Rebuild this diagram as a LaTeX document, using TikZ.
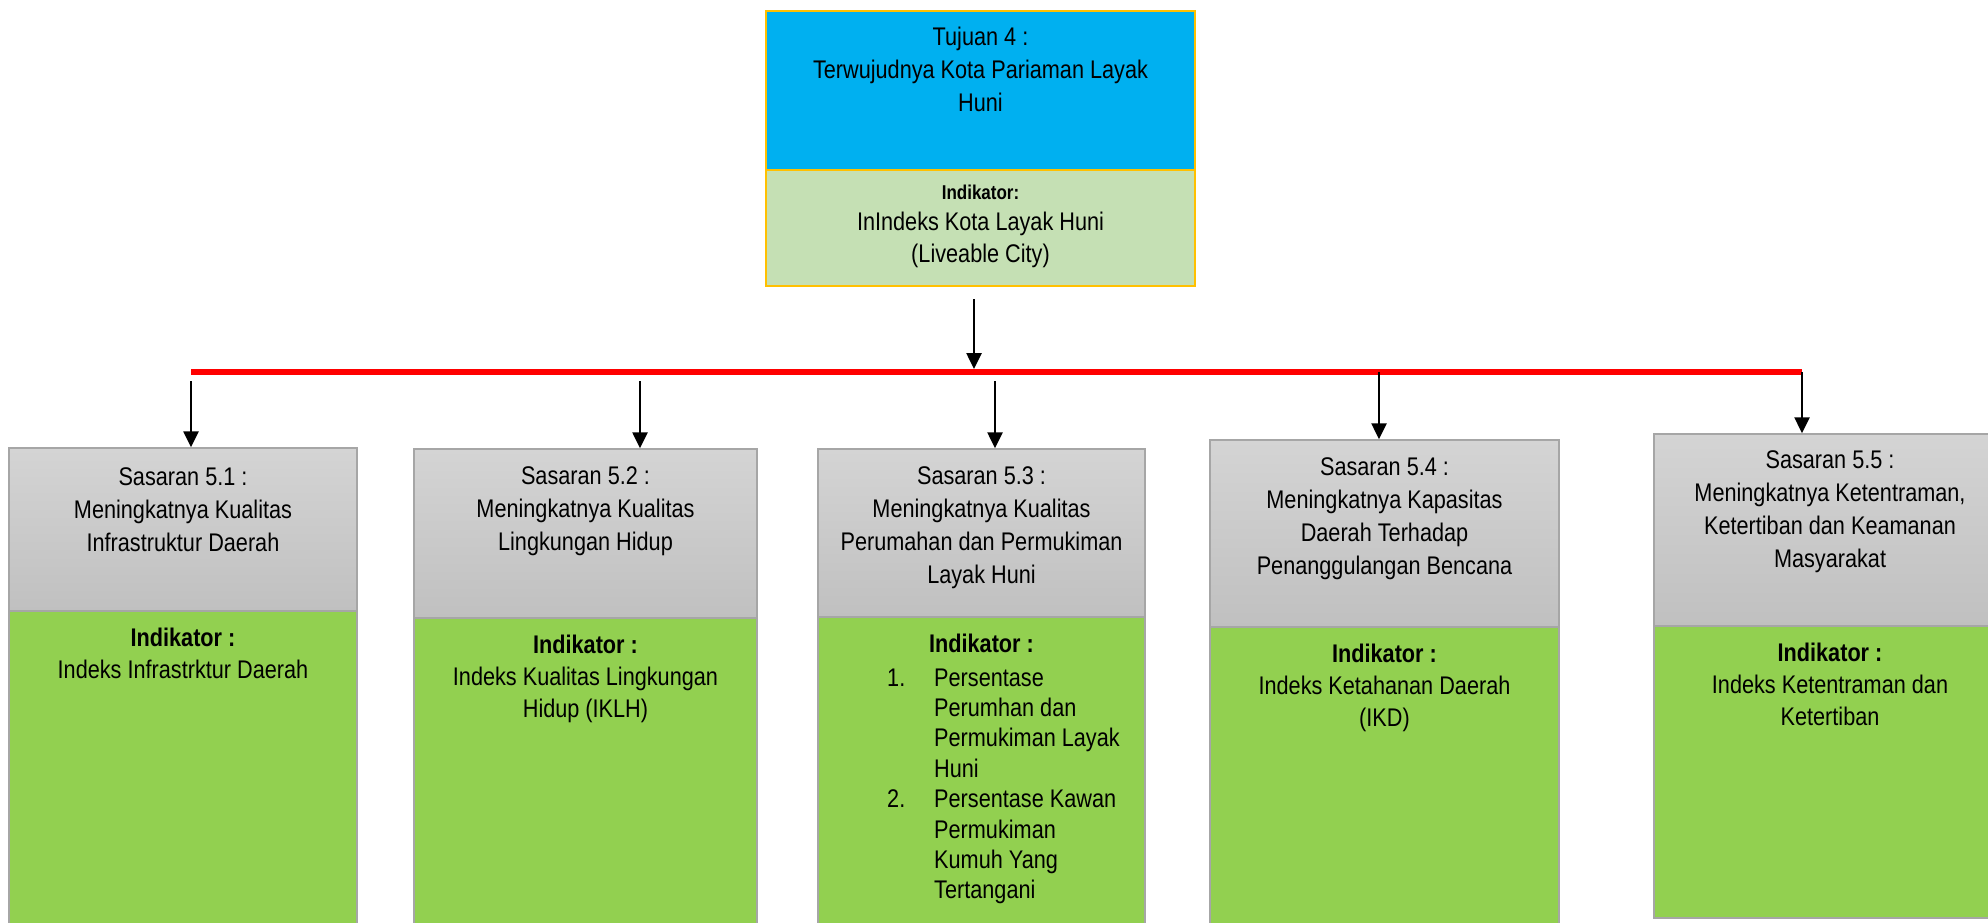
\documentclass[tikz,border=0pt]{standalone}
\usepackage{fontspec}
\setmainfont[FakeStretch=0.85]{Liberation Sans}
\usetikzlibrary{calc,arrows.meta}
\definecolor{topblue}{HTML}{00B0F0}
\definecolor{toplgreen}{HTML}{C5E0B4}
\definecolor{topborder}{HTML}{FFC000}
\definecolor{boxgreen}{HTML}{92D050}
\definecolor{graytop}{HTML}{D4D4D4}
\definecolor{graybot}{HTML}{C0C0C0}
\definecolor{boxborder}{HTML}{A6A6A6}
\newcommand\fsA{\fontsize{25.5}{33}\selectfont}
\newcommand\fsB{\fontsize{25.5}{32}\selectfont}
\newcommand\fsC{\fontsize{25.5}{30.4}\selectfont}
\tikzset{
  topbox/.style={draw=topborder, line width=2pt, fill=topblue, inner sep=0pt},
  toplow/.style={draw=topborder, line width=2pt, fill=toplgreen, inner sep=0pt},
  graybox/.style={draw=boxborder, line width=1.5pt, top color=graytop, bottom color=graybot, inner sep=0pt},
  greenbox/.style={draw=boxborder, line width=1.5pt, fill=boxgreen, inner sep=0pt},
  txtA/.style={anchor=north, inner sep=0pt, align=center, font=\fsA},
  txtB/.style={anchor=north, inner sep=0pt, align=center, font=\fsB},
  arr/.style={line width=2.6pt, draw=black, -{Triangle[width=15pt,length=16pt]}},
  bus/.style={line width=5.5pt, draw=red}
}
\begin{document}
\begin{tikzpicture}[x=1pt,y=-1pt]
\useasboundingbox (0,0) rectangle (1988,922);
% top box
\node[topbox, minimum width=429, minimum height=159] (t1) at (980.5,90.5) {};
\node[toplow, minimum width=429, minimum height=116] (t2) at (980.5,228) {};
\node[txtA] (t1t) at (980.5,21.9) {\strut Tujuan 4 :\\Terwujudnya Kota Pariaman Layak\\Huni};
\node[anchor=base, inner sep=0pt, font=\fontsize{20}{24}\selectfont\bfseries] (t2h) at (980.5,199) {Indikator:};
\node[txtB] (t2t) at (980.5,207.6) {\strut InIndeks Kota Layak Huni\\(Liveable City)};
% gray boxes
\node[graybox, minimum width=348, minimum height=163] (s1) at (183,529.5) {};
\node[greenbox, minimum width=348, minimum height=315] (g1) at (183,768.5) {};
\node[graybox, minimum width=343, minimum height=169] (s2) at (585.5,533.5) {};
\node[greenbox, minimum width=343, minimum height=308] (g2) at (585.5,772) {};
\node[graybox, minimum width=327, minimum height=168] (s3) at (981.5,533) {};
\node[greenbox, minimum width=327, minimum height=309] (g3) at (981.5,771.5) {};
\node[graybox, minimum width=349, minimum height=187] (s4) at (1384.5,533.5) {};
\node[greenbox, minimum width=349, minimum height=299] (g4) at (1384.5,776.5) {};
\node[graybox, minimum width=352, minimum height=192] (s5) at (1830,530) {};
\node[greenbox, minimum width=352, minimum height=292] (g5) at (1830,772) {};
% texts
\node[txtA] (s1t) at (183,461.9) {\strut Sasaran 5.1 :\\Meningkatnya Kualitas\\Infrastruktur Daerah};
\node[txtA] (s2t) at (585.5,460.9) {\strut Sasaran 5.2 :\\Meningkatnya Kualitas\\Lingkungan Hidup};
\node[txtA] (s3t) at (981.5,460.9) {\strut Sasaran 5.3 :\\Meningkatnya Kualitas\\Perumahan dan Permukiman\\Layak Huni};
\node[txtA] (s4t) at (1384.5,451.9) {\strut Sasaran 5.4 :\\Meningkatnya Kapasitas\\Daerah Terhadap\\Penanggulangan Bencana};
\node[txtA] (s5t) at (1830,444.9) {\strut Sasaran 5.5 :\\Meningkatnya Ketentraman,\\Ketertiban dan Keamanan\\Masyarakat};
\node[txtB] (g1t) at (183,623.6) {\strut\textbf{Indikator :}\\Indeks Infrastrktur Daerah};
\node[txtB] (g2t) at (585.5,630.6) {\strut\textbf{Indikator :}\\Indeks Kualitas Lingkungan\\Hidup (IKLH)};
\node[anchor=base, inner sep=0pt, font=\fsB\bfseries] (g3h) at (981.5,652) {Indikator :};
\node[anchor=north west, inner sep=0pt, font=\fsC] (g3t) at (887,664.7) {%
\begin{tabular}{@{}p{47pt}@{}l@{}}
1. & Persentase\\
   & Perumhan dan\\
   & Permukiman Layak\\
   & Huni\\
2. & Persentase Kawan\\
   & Permukiman\\
   & Kumuh Yang\\
   & Tertangani
\end{tabular}};
\node[txtB] (g4t) at (1384.5,639.6) {\strut\textbf{Indikator :}\\Indeks Ketahanan Daerah\\(IKD)};
\node[txtB] (g5t) at (1830,638.6) {\strut\textbf{Indikator :}\\Indeks Ketentraman dan\\Ketertiban};
% bus and connectors
\coordinate (a1) at (191,372);
\coordinate (a2) at (640,372);
\coordinate (a0) at (974,372);
\coordinate (a3) at (995,372);
\coordinate (a4) at (1379,372);
\coordinate (a5) at (1802,372);
\draw[bus] (a1) -- (a5);
\draw[arr] ($(t2.south -| a0)+(0,12)$) -- ($(a0)+(0,-3)$);
\draw[arr] ($(a1)+(0,9)$) -- (s1.north -| a1);
\draw[arr] ($(a2)+(0,9)$) -- (s2.north -| a2);
\draw[arr] ($(a3)+(0,9)$) -- (s3.north -| a3);
\draw[arr] (a4) -- (s4.north -| a4);
\draw[arr] (a5) -- (s5.north -| a5);
\end{tikzpicture}
\end{document}
